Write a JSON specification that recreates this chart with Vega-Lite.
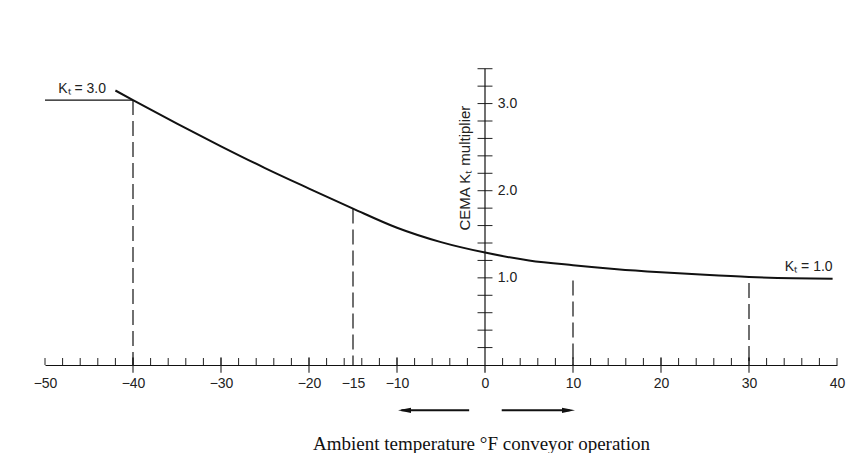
{
  "$schema": "https://vega.github.io/schema/vega-lite/v6.json",
  "width": 792,
  "height": 305,
  "autosize": {"type": "none"},
  "padding": {"left": 45, "top": 60, "right": 17, "bottom": 88},
  "background": "white",
  "config": {"view": {"stroke": null}},
  "datasets": {
    "curve": [
      {"t": -42, "k": 3.15}, {"t": -40, "k": 3.04}, {"t": -35, "k": 2.77}, {"t": -30, "k": 2.51},
      {"t": -25, "k": 2.26}, {"t": -20, "k": 2.025}, {"t": -15, "k": 1.795}, {"t": -10, "k": 1.575},
      {"t": -5, "k": 1.41}, {"t": 0, "k": 1.29}, {"t": 5, "k": 1.2}, {"t": 10, "k": 1.145},
      {"t": 15, "k": 1.1}, {"t": 20, "k": 1.065}, {"t": 25, "k": 1.035}, {"t": 30, "k": 1.01},
      {"t": 35, "k": 0.995}, {"t": 39.5, "k": 0.99}
    ],
    "xminor": [
      {"t": -50}, {"t": -48}, {"t": -46}, {"t": -44}, {"t": -42}, {"t": -40}, {"t": -38}, {"t": -36},
      {"t": -34}, {"t": -32}, {"t": -30}, {"t": -28}, {"t": -26}, {"t": -24}, {"t": -22}, {"t": -20},
      {"t": -18}, {"t": -16}, {"t": -14}, {"t": -12}, {"t": -10}, {"t": -8}, {"t": -6}, {"t": -4},
      {"t": -2}, {"t": 2}, {"t": 4}, {"t": 6}, {"t": 8}, {"t": 10}, {"t": 12}, {"t": 14},
      {"t": 16}, {"t": 18}, {"t": 20}, {"t": 22}, {"t": 24}, {"t": 26}, {"t": 28}, {"t": 30},
      {"t": 32}, {"t": 34}, {"t": 36}, {"t": 38}, {"t": 40}
    ],
    "xmajor": [
      {"t": -40}, {"t": -30}, {"t": -20}, {"t": -10}, {"t": 10}, {"t": 20}, {"t": 30}
    ],
    "yticks": [
      {"k": 0.2}, {"k": 0.4}, {"k": 0.6}, {"k": 0.8}, {"k": 1.0}, {"k": 1.2}, {"k": 1.4}, {"k": 1.6},
      {"k": 1.8}, {"k": 2.0}, {"k": 2.2}, {"k": 2.4}, {"k": 2.6}, {"k": 2.8}, {"k": 3.0}, {"k": 3.2},
      {"k": 3.4}
    ],
    "ylabels": [
      {"k": 1.0, "label": "1.0"}, {"k": 2.0, "label": "2.0"}, {"k": 3.0, "label": "3.0"}
    ],
    "drops": [
      {"t": -40, "k": 3.04}, {"t": -15, "k": 1.795}, {"t": 10, "k": 0.97}, {"t": 30, "k": 0.94}
    ]
  },
  "layer": [
    {
      "data": {"name": "xminor"},
      "mark": {"type": "rule", "color": "#222", "strokeWidth": 1},
      "encoding": {
        "x": {
          "field": "t", "type": "quantitative",
          "scale": {"domain": [-50, 40], "nice": false, "zero": false},
          "axis": {
            "values": [-50, -40, -30, -20, -15, -10, 0, 10, 20, 30, 40],
            "format": "d",
            "ticks": false,
            "grid": false,
            "domain": true,
            "domainColor": "#111",
            "domainWidth": 1.2,
            "labelFont": "Liberation Sans",
            "labelFontSize": 14,
            "labelColor": "#222",
            "labelPadding": 11,
            "labelFlush": false,
            "labelOverlap": false,
            "title": "Ambient temperature °F conveyor operation",
            "titleFont": "Liberation Serif",
            "titleFontSize": 19,
            "titleFontWeight": "normal",
            "titleColor": "#111",
            "titleX": 436,
            "titleY": 78,
            "titleBaseline": "middle"
          }
        },
        "y": {"datum": 0, "type": "quantitative", "scale": {"domain": [0, 3.5], "nice": false}, "axis": null},
        "y2": {"datum": 0.08}
      }
    },
    {
      "data": {"name": "xmajor"},
      "mark": {"type": "rule", "color": "#222", "strokeWidth": 1.1},
      "encoding": {
        "x": {"field": "t", "type": "quantitative"},
        "y": {"datum": -0.09, "type": "quantitative", "axis": null},
        "y2": {"datum": 0.09}
      }
    },
    {
      "data": {"name": "yticks"},
      "mark": {"type": "rule", "color": "#222", "strokeWidth": 1},
      "encoding": {
        "x": {"datum": -0.85, "type": "quantitative"},
        "x2": {"datum": 0.85},
        "y": {"field": "k", "type": "quantitative", "axis": null}
      }
    },
    {
      "data": {"values": [{}]},
      "mark": {"type": "rule", "color": "#111", "strokeWidth": 1.2},
      "encoding": {
        "x": {"datum": 0, "type": "quantitative"},
        "y": {"datum": -0.09, "type": "quantitative", "axis": null},
        "y2": {"datum": 3.4}
      }
    },
    {
      "data": {"name": "drops"},
      "mark": {"type": "rule", "color": "#111", "strokeWidth": 1.2, "strokeDash": [15, 6]},
      "encoding": {
        "x": {"field": "t", "type": "quantitative"},
        "y": {"field": "k", "type": "quantitative", "axis": null},
        "y2": {"datum": 0}
      }
    },
    {
      "data": {"values": [{}]},
      "mark": {"type": "rule", "color": "#111", "strokeWidth": 1.1},
      "encoding": {
        "x": {"datum": -50, "type": "quantitative"},
        "x2": {"datum": -40},
        "y": {"datum": 3.04, "type": "quantitative", "axis": null}
      }
    },
    {
      "data": {"name": "curve"},
      "mark": {"type": "line", "color": "#111", "strokeWidth": 2, "interpolate": "monotone"},
      "encoding": {
        "x": {"field": "t", "type": "quantitative"},
        "y": {"field": "k", "type": "quantitative", "axis": null}
      }
    },
    {
      "data": {"name": "ylabels"},
      "mark": {"type": "text", "align": "left", "baseline": "middle", "font": "Liberation Sans", "fontSize": 14, "color": "#222"},
      "encoding": {
        "x": {"datum": 1.45, "type": "quantitative"},
        "y": {"field": "k", "type": "quantitative", "axis": null},
        "text": {"field": "label"}
      }
    },
    {
      "data": {"values": [{}]},
      "mark": {"type": "text", "align": "center", "baseline": "middle", "angle": 270, "font": "Liberation Sans", "fontSize": 15, "color": "#222", "text": "CEMA Kₜ multiplier"},
      "encoding": {
        "x": {"datum": -2.3, "type": "quantitative"},
        "y": {"datum": 2.26, "type": "quantitative", "axis": null}
      }
    },
    {
      "data": {"values": [{}]},
      "mark": {"type": "text", "align": "left", "baseline": "middle", "font": "Liberation Sans", "fontSize": 14, "color": "#222", "text": "Kₜ = 3.0"},
      "encoding": {
        "x": {"datum": -48.5, "type": "quantitative"},
        "y": {"datum": 3.17, "type": "quantitative", "axis": null}
      }
    },
    {
      "data": {"values": [{}]},
      "mark": {"type": "text", "align": "right", "baseline": "middle", "font": "Liberation Sans", "fontSize": 14, "color": "#222", "text": "Kₜ = 1.0"},
      "encoding": {
        "x": {"datum": 39.5, "type": "quantitative"},
        "y": {"datum": 1.12, "type": "quantitative", "axis": null}
      }
    },
    {
      "data": {"values": [{}]},
      "mark": {"type": "rule", "color": "#111", "strokeWidth": 2},
      "encoding": {
        "x": {"datum": -9.5, "type": "quantitative"},
        "x2": {"datum": -1.8},
        "y": {"datum": -0.52, "type": "quantitative", "axis": null}
      }
    },
    {
      "data": {"values": [{}]},
      "mark": {"type": "rule", "color": "#111", "strokeWidth": 2},
      "encoding": {
        "x": {"datum": 1.9, "type": "quantitative"},
        "x2": {"datum": 9.6},
        "y": {"datum": -0.52, "type": "quantitative", "axis": null}
      }
    },
    {
      "data": {"values": [{}]},
      "mark": {"type": "point", "shape": "M1,-0.4L-1,0L1,0.4Z", "filled": true, "color": "#111", "opacity": 1, "size": 169},
      "encoding": {
        "x": {"datum": -9.15, "type": "quantitative"},
        "y": {"datum": -0.52, "type": "quantitative", "axis": null}
      }
    },
    {
      "data": {"values": [{}]},
      "mark": {"type": "point", "shape": "M-1,-0.4L1,0L-1,0.4Z", "filled": true, "color": "#111", "opacity": 1, "size": 169},
      "encoding": {
        "x": {"datum": 9.49, "type": "quantitative"},
        "y": {"datum": -0.52, "type": "quantitative", "axis": null}
      }
    }
  ]
}
